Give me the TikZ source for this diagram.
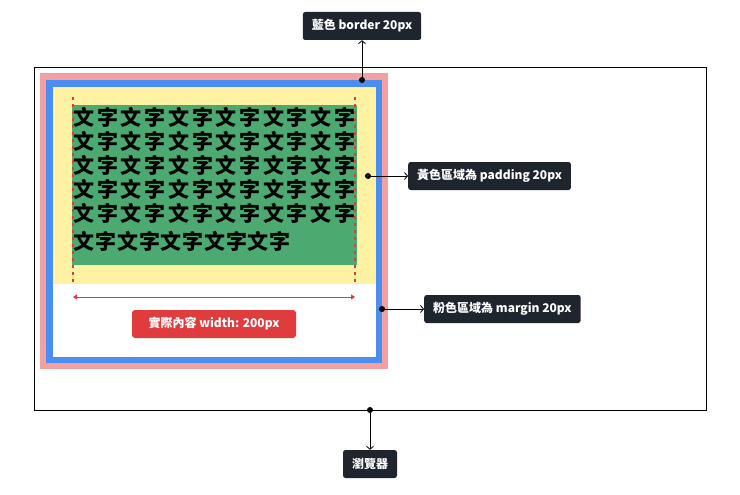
\documentclass[tikz,border=0pt]{standalone}
\usepackage{fontspec}
\setmainfont{Noto Sans CJK TC}
\usetikzlibrary{arrows.meta}
\definecolor{dark}{HTML}{1E252E}
\definecolor{redl}{HTML}{E03C3E}
\definecolor{pinkc}{HTML}{F2A0A0}
\definecolor{bluec}{HTML}{4B8EF1}
\definecolor{yelc}{HTML}{FFF2A3}
\definecolor{greenc}{HTML}{4CA96F}
\tikzset{lbl/.style={fill=dark,text=white,rounded corners=2.5pt,font=\bfseries\fontsize{12}{14}\selectfont,inner xsep=9pt,minimum height=28pt},
 dot/.style={circle,fill=black,inner sep=0pt,minimum size=6pt},
 conn/.style={-{Straight Barb[length=3pt,width=7pt]},line width=0.8pt},
 ch/.style={inner sep=0pt,font=\bfseries\fontsize{21}{21}\selectfont}}
\begin{document}
\begin{tikzpicture}[x=1pt,y=-1pt]
\useasboundingbox (0,0) rectangle (740,495);
\draw[line width=0.8pt] (34,67) rectangle (706,410);
\fill[pinkc] (40,73) rectangle (388,369);
\fill[bluec] (46,80) rectangle (382,363);
\fill[white] (53,87) rectangle (376,357);
\fill[yelc] (53,87) rectangle (376,284);
\fill[greenc] (72,105) rectangle (357,265);
\foreach \r in {0,...,4}{
  \foreach \c in {0,...,5}{
    \node[ch] at (84+\c*47.4,117+\r*24.2) {文};
    \node[ch] at (107.7+\c*47.4,117+\r*24.2) {字};
  }}
\foreach \c in {0,...,4}{
    \node[ch] at (84+\c*43.5,241) {文};
    \node[ch] at (106+\c*43.5,241) {字};
}
\draw[redl,line width=1.3pt,dash pattern=on 3pt off 4pt] (73,97) -- (73,284);
\draw[redl,line width=1.3pt,dash pattern=on 3pt off 4pt] (355,97) -- (355,284);
\coordinate (wl) at (73,297); \coordinate (wr) at (355,297);
\draw[redl,line width=0.8pt,{Triangle[length=4pt,width=5pt]}-{Triangle[length=4pt,width=5pt]}] (wl) -- (wr);
\node[fill=redl,text=white,rounded corners=3pt,font=\bfseries\fontsize{12}{14}\selectfont,minimum width=164pt,minimum height=28pt] (w) at (214,324) {實際內容 width: 200px};

\node[lbl] (b) at (362,26) {藍色 border 20px};
\node[dot] (db) at (362,80) {};
\draw[conn] (db) -- (b);
\node[lbl,anchor=west] (p) at (408,176) {黃色區域為 padding 20px};
\node[dot] (dp) at (368,176) {};
\draw[conn] (dp) -- (p);
\node[lbl,anchor=west] (m) at (424,309) {粉色區域為 margin 20px};
\node[dot] (dm) at (382,309) {};
\draw[conn] (dm) -- (m);
\node[lbl] (br) at (370,464) {瀏覽器};
\node[dot] (dbr) at (370,410) {};
\draw[conn] (dbr) -- (br);
\end{tikzpicture}
\end{document}
